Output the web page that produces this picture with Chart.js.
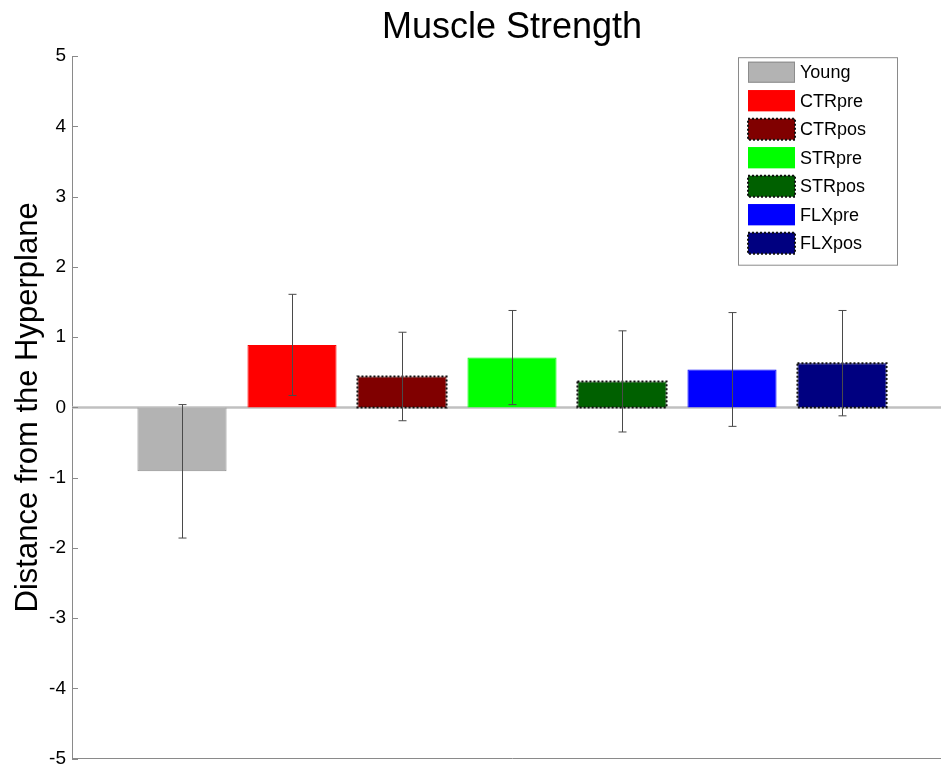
<!DOCTYPE html>
<html>
<head>
<meta charset="utf-8">
<script src="https://cdn.jsdelivr.net/npm/chart.js@4.4.0/dist/chart.umd.min.js"></script>
<style>
  html, body { margin: 0; padding: 0; background: #fff; overflow: hidden; }
  #wrap { width: 941px; height: 776px; overflow: hidden; }
  #wrap canvas { display: block; }
</style>
</head>
<body>
<div id="wrap"><canvas id="strength-chart" width="960" height="776"></canvas></div>
<script>
// group names, bar positions, means and error half-widths
const groups = ['Young', 'CTRpre', 'CTRpos', 'STRpre', 'STRpos', 'FLXpre', 'FLXpos'];
const positions = [1, 2, 3, 4, 5, 6, 7];
const means = [-0.91, 0.89, 0.44, 0.71, 0.37, 0.54, 0.63];
const errors = [0.95, 0.72, 0.63, 0.67, 0.72, 0.81, 0.75];
const yTicks = [-5, -4, -3, -2, -1, 0, 1, 2, 3, 4, 5];

const fillColors = ['#b3b3b3', '#ff0000', '#800000', '#00ff00', '#006000', '#0000ff', '#000080'];
const edgeColors = ['#8c8c8c', '#ff0000', '#800000', '#00ff00', '#006000', '#0000ff', '#000080'];
const dottedEdge = [false, false, true, false, true, false, true];

const FONT = '"Liberation Sans", Arial, sans-serif';
const AXIS_GRAY = '#8a8a8a';

// zero line behind the bars
const baseLine = {
  id: 'baseLine',
  beforeDatasetsDraw(chart) {
    const { ctx, chartArea, scales } = chart;
    const y = scales.y.getPixelForValue(0);
    ctx.save();
    ctx.strokeStyle = '#c0c0c0';
    ctx.lineWidth = 2.5;
    ctx.beginPath();
    ctx.moveTo(chartArea.left, y);
    ctx.lineTo(chartArea.right, y);
    ctx.stroke();
    ctx.restore();
  }
};

// dotted outlines, error bars and inward y ticks
const barExtras = {
  id: 'barExtras',
  afterDatasetsDraw(chart) {
    const { ctx, chartArea, scales } = chart;
    const bars = chart.getDatasetMeta(0).data;
    ctx.save();

    bars.forEach((bar, i) => {
      if (!dottedEdge[i]) return;
      const top = Math.min(bar.y, bar.base);
      const h = Math.abs(bar.base - bar.y);
      ctx.strokeStyle = '#111';
      ctx.lineWidth = 2;
      ctx.setLineDash([2, 2]);
      ctx.strokeRect(bar.x - bar.width / 2, top, bar.width, h);
    });
    ctx.setLineDash([]);

    ctx.strokeStyle = '#4a4a4a';
    ctx.lineWidth = 1;
    bars.forEach((bar, i) => {
      const x = Math.round(bar.x) + 0.5;
      const hi = scales.y.getPixelForValue(means[i] + errors[i]);
      const lo = scales.y.getPixelForValue(means[i] - errors[i]);
      ctx.beginPath();
      ctx.moveTo(x, hi);
      ctx.lineTo(x, lo);
      ctx.moveTo(x - 4, hi);
      ctx.lineTo(x + 4, hi);
      ctx.moveTo(x - 4, lo);
      ctx.lineTo(x + 4, lo);
      ctx.stroke();
    });

    ctx.strokeStyle = AXIS_GRAY;
    yTicks.forEach((t) => {
      const y = Math.round(scales.y.getPixelForValue(t)) + 0.5;
      ctx.beginPath();
      ctx.moveTo(chartArea.left, y);
      ctx.lineTo(chartArea.left + 6, y);
      ctx.stroke();
    });
    ctx.restore();
  }
};

// boxed legend in the upper right of the plot
const boxLegend = {
  id: 'boxLegend',
  afterDraw(chart) {
    const { ctx, chartArea } = chart;
    const boxW = 159, rowH = 28.5, padTop = 4;
    const boxH = groups.length * rowH + padTop * 2;
    const left = chartArea.right - 55 - boxW;
    const top = chartArea.top + 1;
    ctx.save();
    ctx.fillStyle = '#fff';
    ctx.fillRect(left, top, boxW, boxH);
    ctx.strokeStyle = '#8a8a8a';
    ctx.lineWidth = 1;
    ctx.strokeRect(left + 0.5, top + 0.5, boxW, boxH);

    ctx.font = '18px ' + FONT;
    ctx.textBaseline = 'middle';
    groups.forEach((name, i) => {
      const cy = top + padTop + 11 + i * rowH;
      const sx = left + 10, sw = 47, sh = 21;
      ctx.fillStyle = fillColors[i];
      ctx.fillRect(sx, cy - sh / 2, sw, sh);
      if (dottedEdge[i]) {
        ctx.strokeStyle = '#111';
        ctx.lineWidth = 2;
        ctx.setLineDash([2, 2]);
        ctx.strokeRect(sx, cy - sh / 2, sw, sh);
        ctx.setLineDash([]);
      } else {
        ctx.strokeStyle = edgeColors[i];
        ctx.lineWidth = 1;
        ctx.strokeRect(sx + 0.5, cy - sh / 2 + 0.5, sw - 1, sh - 1);
      }
      ctx.fillStyle = '#000';
      ctx.fillText(name, sx + sw + 5, cy + 1);
    });
    ctx.restore();
  }
};

const ctx = document.getElementById('strength-chart').getContext('2d');
const chart = new Chart(ctx, {
  type: 'bar',
  data: {
    datasets: [{
      label: 'Muscle Strength',
      data: positions.map((x, i) => ({ x: x, y: means[i] })),
      backgroundColor: fillColors,
      borderColor: edgeColors,
      borderWidth: 1,
      barPercentage: 0.81,
      categoryPercentage: 1
    }]
  },
  options: {
    responsive: false,
    animation: false,
    layout: { padding: { left: 0, right: 8, top: 0, bottom: 9 } },
    plugins: {
      legend: { display: false },
      tooltip: { enabled: false },
      title: {
        display: true,
        text: 'Muscle Strength',
        fullSize: false,
        color: '#000',
        font: { family: FONT, size: 36, weight: 'normal' },
        padding: { top: 6, bottom: 7 }
      }
    },
    scales: {
      x: {
        type: 'linear',
        min: 0,
        max: 8,
        offset: false,
        ticks: { display: false },
        grid: { display: false, drawTicks: false },
        border: { display: true, color: AXIS_GRAY, width: 1 }
      },
      y: {
        min: -5,
        max: 5,
        afterFit(scale) { scale.width = 72; },
        afterBuildTicks(scale) { scale.ticks = yTicks.map((v) => ({ value: v })); },
        ticks: {
          color: '#000',
          padding: 6,
          font: { family: FONT, size: 19 }
        },
        grid: { display: false, drawTicks: false },
        border: { display: true, color: AXIS_GRAY, width: 1 },
        title: {
          display: true,
          text: 'Distance from the Hyperplane',
          color: '#000',
          font: { family: FONT, size: 31, weight: 'normal' },
          padding: { top: 10, bottom: 0 }
        }
      }
    }
  },
  plugins: [baseLine, barExtras, boxLegend]
});
</script>
</body>
</html>
